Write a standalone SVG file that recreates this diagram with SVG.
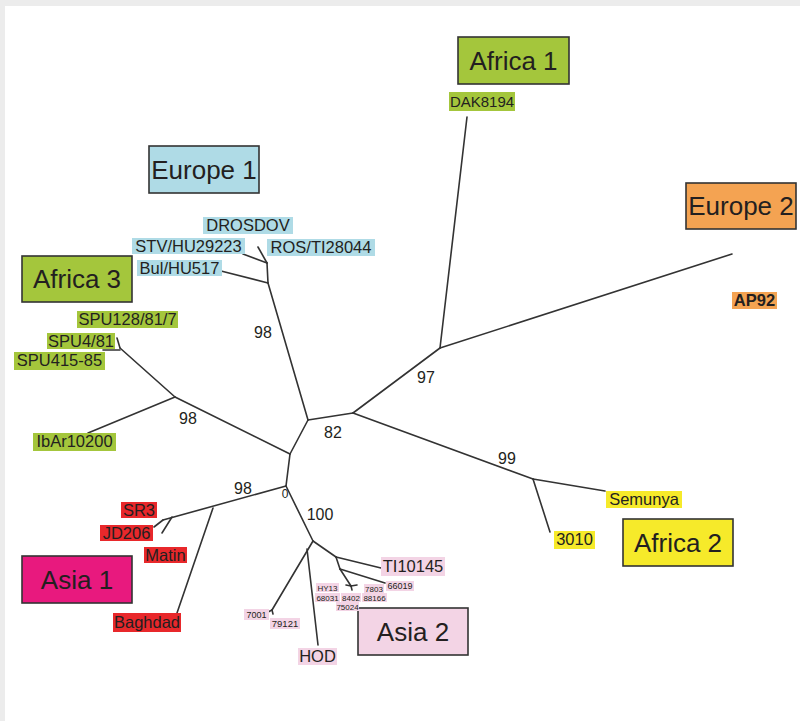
<svg xmlns="http://www.w3.org/2000/svg" width="800" height="721" viewBox="0 0 800 721">
<style>
.bg{fill:#ececec}
.page{fill:#ffffff}
text{font-family:"Liberation Sans",Arial,sans-serif;fill:#231f20}
.big{font-size:26px;text-anchor:middle}
.lab{font-size:16.5px;text-anchor:middle}
.tiny{font-size:8px;text-anchor:middle}
.bs{font-size:16px;text-anchor:middle}
.box{stroke:#333333;stroke-width:1.6}
.green{fill:#a4c63c}
.blue{fill:#afdbe6}
.orange{fill:#f4a352}
.yellow{fill:#f6ea2a}
.magenta{fill:#e8197e}
.pink{fill:#f3d4e5}
.red{fill:#e8282b}
#edges line,#edges polyline{stroke:#333333;stroke-width:1.6;fill:none;stroke-linecap:round}
</style>
<rect class="bg" x="0" y="0" width="800" height="721"/>
<rect class="page" x="5" y="6" width="795" height="715"/>

<g id="edges">
<line x1="308" y1="420" x2="268" y2="283"/>
<line x1="268" y1="283" x2="221" y2="271"/>
<line x1="268" y1="283" x2="267" y2="263"/>
<line x1="267" y1="263" x2="243" y2="254"/>
<line x1="267" y1="263" x2="258" y2="247"/>
<line x1="308" y1="420" x2="353" y2="413"/>
<line x1="353" y1="413" x2="440" y2="348"/>
<line x1="440" y1="348" x2="467" y2="117"/>
<line x1="440" y1="348" x2="732" y2="254"/>
<line x1="353" y1="413" x2="533" y2="479"/>
<line x1="533" y1="479" x2="605" y2="491"/>
<line x1="533" y1="479" x2="550" y2="532"/>
<line x1="308" y1="420" x2="290" y2="454"/>
<line x1="290" y1="454" x2="175" y2="397"/>
<line x1="175" y1="397" x2="120" y2="348"/>
<line x1="120" y1="348" x2="117" y2="338"/>
<line x1="120" y1="350" x2="103" y2="350"/>
<line x1="175" y1="397" x2="88" y2="433"/>
<line x1="290" y1="454" x2="286" y2="486"/>
<line x1="286" y1="486" x2="163" y2="520"/>
<line x1="172" y1="517" x2="162" y2="533"/>
<line x1="163" y1="520" x2="154" y2="527"/>
<line x1="213" y1="508" x2="177" y2="613"/>
<line x1="286" y1="486" x2="313" y2="541"/>
<line x1="313" y1="541" x2="272" y2="610"/>
<line x1="272" y1="610" x2="268" y2="612"/>
<line x1="272" y1="610" x2="273" y2="614"/>
<line x1="307" y1="549" x2="318" y2="645"/>
<line x1="313" y1="541" x2="336" y2="557"/>
<line x1="336" y1="557" x2="381" y2="568"/>
<line x1="336" y1="557" x2="340" y2="569"/>
<line x1="340" y1="569" x2="385" y2="583"/>
<line x1="340" y1="569" x2="351" y2="586"/>
<line x1="351" y1="586" x2="346" y2="585"/>
<line x1="351" y1="586" x2="357" y2="585"/>
<line x1="351" y1="586" x2="352" y2="590"/>
</g>

<g id="bootstrap">
<text class="bs" x="263" y="338">98</text>
<text class="bs" x="426" y="383">97</text>
<text class="bs" x="333" y="438">82</text>
<text class="bs" x="507" y="464">99</text>
<text class="bs" x="188" y="424">98</text>
<text class="bs" x="243" y="494">98</text>
<text class="bs" x="320" y="520">100</text>
<text x="285" y="498" style="font-size:12px;text-anchor:middle">0</text>
</g>

<g id="africa1">
<rect class="box green" x="458" y="37" width="111" height="47"/>
<text class="big" x="513.5" y="70">Africa 1</text>
</g>
<g id="europe1">
<rect class="box blue" x="149" y="146" width="110" height="47"/>
<text class="big" x="204" y="179">Europe 1</text>
</g>
<g id="africa3">
<rect class="box green" x="22" y="256" width="110" height="46"/>
<text class="big" x="77" y="288">Africa 3</text>
</g>
<g id="europe2">
<rect class="box orange" x="686" y="183" width="110" height="46"/>
<text class="big" x="741" y="215">Europe 2</text>
</g>
<g id="africa2">
<rect class="box yellow" x="623" y="519" width="110" height="47"/>
<text class="big" x="678" y="552">Africa 2</text>
</g>
<g id="asia1">
<rect class="box magenta" x="22" y="556" width="110" height="47"/>
<text class="big" x="77" y="589">Asia 1</text>
</g>
<g id="asia2">
<rect class="box pink" x="358" y="608" width="110" height="47"/>
<text class="big" x="413" y="641">Asia 2</text>
</g>

<g id="DAK8194"><rect class="green" x="449" y="92" width="66" height="19"/><text class="lab" x="482" y="107" style="font-size:15px">DAK8194</text></g>
<g id="DROSDOV"><rect class="blue" x="203" y="217" width="90" height="17"/><text class="lab" x="248" y="231">DROSDOV</text></g>
<g id="STV"><rect class="blue" x="132" y="238" width="113" height="16"/><text class="lab" x="188.5" y="252">STV/HU29223</text></g>
<g id="ROS"><rect class="blue" x="267" y="239" width="108" height="17"/><text class="lab" x="321" y="253">ROS/TI28044</text></g>
<g id="Bul"><rect class="blue" x="137" y="260" width="85" height="16"/><text class="lab" x="179.5" y="274">Bul/HU517</text></g>
<g id="SPU128"><rect class="green" x="77" y="311" width="101" height="17"/><text class="lab" x="127.5" y="325">SPU128/81/7</text></g>
<g id="SPU4"><rect class="green" x="47" y="333" width="68" height="16"/><text class="lab" x="81" y="347">SPU4/81</text></g>
<g id="SPU415"><rect class="green" x="14" y="352" width="91" height="18"/><text class="lab" x="59.5" y="366">SPU415-85</text></g>
<g id="IbAr10200"><rect class="green" x="33" y="433" width="83" height="18"/><text class="lab" x="74.5" y="447">IbAr10200</text></g>
<g id="AP92"><rect class="orange" x="732" y="292" width="45" height="17"/><text class="lab" x="754.5" y="306" style="font-weight:bold">AP92</text></g>
<g id="Semunya"><rect class="yellow" x="606" y="491" width="76" height="17"/><text class="lab" x="644" y="505">Semunya</text></g>
<g id="n3010"><rect class="yellow" x="554" y="531" width="41" height="18"/><text class="lab" x="574.5" y="545">3010</text></g>
<g id="SR3"><rect class="red" x="121" y="502" width="36" height="16"/><text class="lab" x="139" y="516">SR3</text></g>
<g id="JD206"><rect class="red" x="100" y="525" width="53" height="16"/><text class="lab" x="126.5" y="539">JD206</text></g>
<g id="Matin"><rect class="red" x="144" y="547" width="43" height="16"/><text class="lab" x="165.5" y="561">Matin</text></g>
<g id="Baghdad"><rect class="red" x="113" y="613" width="68" height="19"/><text class="lab" x="147" y="628">Baghdad</text></g>
<g id="TI10145"><rect class="pink" x="381" y="557" width="64" height="19"/><text class="lab" x="413" y="572">TI10145</text></g>
<g id="HOD"><rect class="pink" x="298" y="648" width="39" height="17"/><text class="lab" x="317.5" y="662">HOD</text></g>
<g id="n66019"><rect class="pink" x="386" y="581" width="28" height="10"/><text class="tiny" x="400" y="589" style="font-size:9px">66019</text></g>
<g id="n7803"><rect class="pink" x="364" y="584" width="20" height="9"/><text class="tiny" x="374" y="591.5">7803</text></g>
<g id="n88166"><rect class="pink" x="362" y="593" width="25" height="9"/><text class="tiny" x="374.5" y="600.5">88166</text></g>
<g id="HY13"><rect class="pink" x="316" y="583" width="23" height="9"/><text class="tiny" x="327.5" y="590.5">HY13</text></g>
<g id="n68031"><rect class="pink" x="315" y="593" width="25" height="9"/><text class="tiny" x="327.5" y="600.5">68031</text></g>
<g id="n8402"><rect class="pink" x="341" y="593" width="20" height="9"/><text class="tiny" x="351" y="600.5">8402</text></g>
<g id="n75024"><rect class="pink" x="336" y="602" width="23" height="9"/><text class="tiny" x="347.5" y="609.5">75024</text></g>
<g id="n7001"><rect class="pink" x="244" y="609" width="25" height="11"/><text class="tiny" x="256.5" y="617.5" style="font-size:9px">7001</text></g>
<g id="n79121"><rect class="pink" x="270" y="618" width="30" height="11"/><text class="tiny" x="285" y="626.5" style="font-size:9.5px">79121</text></g>
</svg>
